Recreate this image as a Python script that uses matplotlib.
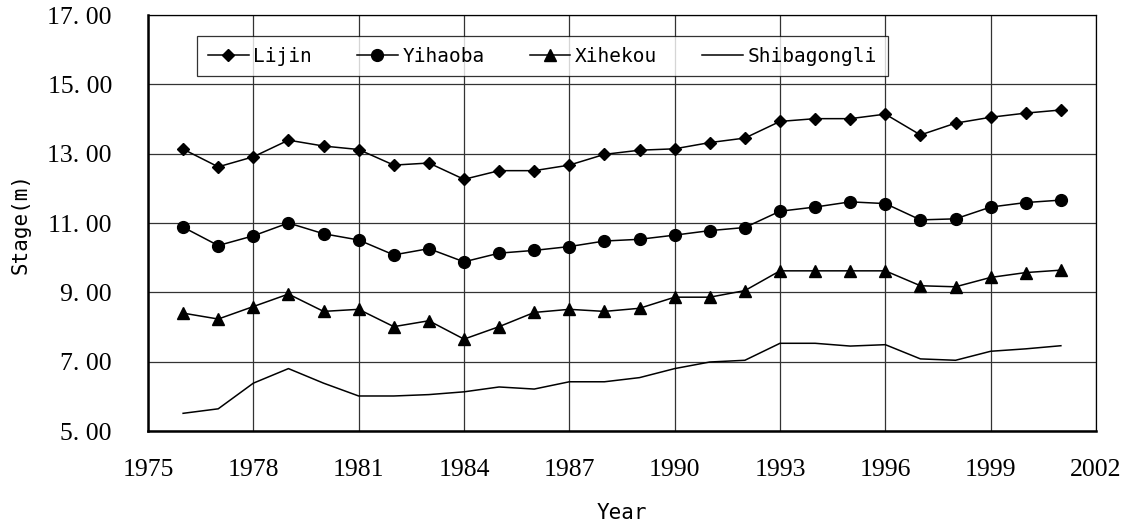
import matplotlib
matplotlib.use('Agg')
import matplotlib.pyplot as plt
from matplotlib.ticker import FuncFormatter

plt.rcParams['font.family'] = ['Liberation Serif', 'DejaVu Serif']

years = list(range(1976, 2002))

lijin = [13.13, 12.62, 12.91, 13.39, 13.22, 13.12, 12.67, 12.73, 12.26, 12.51,
         12.51, 12.67, 12.98, 13.10, 13.14, 13.32, 13.45, 13.93, 14.01, 14.01,
         14.14, 13.54, 13.88, 14.05, 14.17, 14.26]
yihaoba = [10.88, 10.35, 10.63, 11.00, 10.69, 10.51, 10.08, 10.26, 9.88, 10.13,
           10.21, 10.32, 10.48, 10.53, 10.65, 10.78, 10.87, 11.34, 11.46, 11.61,
           11.56, 11.09, 11.12, 11.46, 11.59, 11.66]
xihekou = [8.40, 8.23, 8.59, 8.95, 8.45, 8.51, 8.01, 8.18, 7.65, 8.01,
           8.42, 8.51, 8.45, 8.54, 8.86, 8.86, 9.05, 9.62, 9.62, 9.62,
           9.62, 9.19, 9.16, 9.43, 9.57, 9.64]
shibagongli = [5.51, 5.64, 6.38, 6.80, 6.38, 6.01, 6.01, 6.05, 6.13, 6.27,
               6.21, 6.42, 6.42, 6.54, 6.80, 6.99, 7.04, 7.53, 7.53, 7.45,
               7.49, 7.08, 7.04, 7.30, 7.37, 7.46]

xticks = list(range(1975, 2003, 3))
yticks = [5, 7, 9, 11, 13, 15, 17]

mono = 'DejaVu Sans Mono'

fig = plt.figure(figsize=(11.31, 5.26), dpi=100)
ax = fig.add_axes([148 / 1131, 95 / 526, 948 / 1131, 416 / 526])

ax.plot(years, lijin, color='black', lw=1.1, marker='D', ms=6, label='Lijin')
ax.plot(years, yihaoba, color='black', lw=1.1, marker='o', ms=8.5, label='Yihaoba')
ax.plot(years, xihekou, color='black', lw=1.1, marker='^', ms=9, label='Xihekou')
ax.plot(years, shibagongli, color='black', lw=1.1, label='Shibagongli')

ax.set_xlim(1975, 2002)
ax.set_ylim(5, 17)
ax.set_xticks(xticks)
ax.set_yticks(yticks)
ax.yaxis.set_major_formatter(FuncFormatter(lambda v, p: ('%.2f' % v).replace('.', '. ')))
ax.grid(True, color='#333333', lw=0.9)
ax.set_axisbelow(True)
ax.tick_params(length=0, labelsize=18.5)
ax.tick_params(axis='y', pad=26)
ax.tick_params(axis='x', pad=20)

for s in ['left', 'bottom']:
    ax.spines[s].set_linewidth(1.8)
for s in ['top', 'right']:
    ax.spines[s].set_linewidth(0.9)

ax.set_xlabel('Year', fontsize=15, fontfamily=mono, labelpad=16)
ax.set_ylabel('Stage(m)', fontsize=15, fontfamily=mono, labelpad=12)

leg = ax.legend(loc='upper left', bbox_to_anchor=((197 - 148) / 948, 1 - (36 - 15) / 416),
                borderaxespad=0, ncol=4, frameon=True, fancybox=False,
                prop={'family': mono, 'size': 14}, handlelength=2.1,
                handletextpad=0.25, columnspacing=2.3, borderpad=0.55)
leg.get_frame().set_edgecolor('black')
leg.get_frame().set_linewidth(0.9)

fig.savefig('out.png', dpi=100)
